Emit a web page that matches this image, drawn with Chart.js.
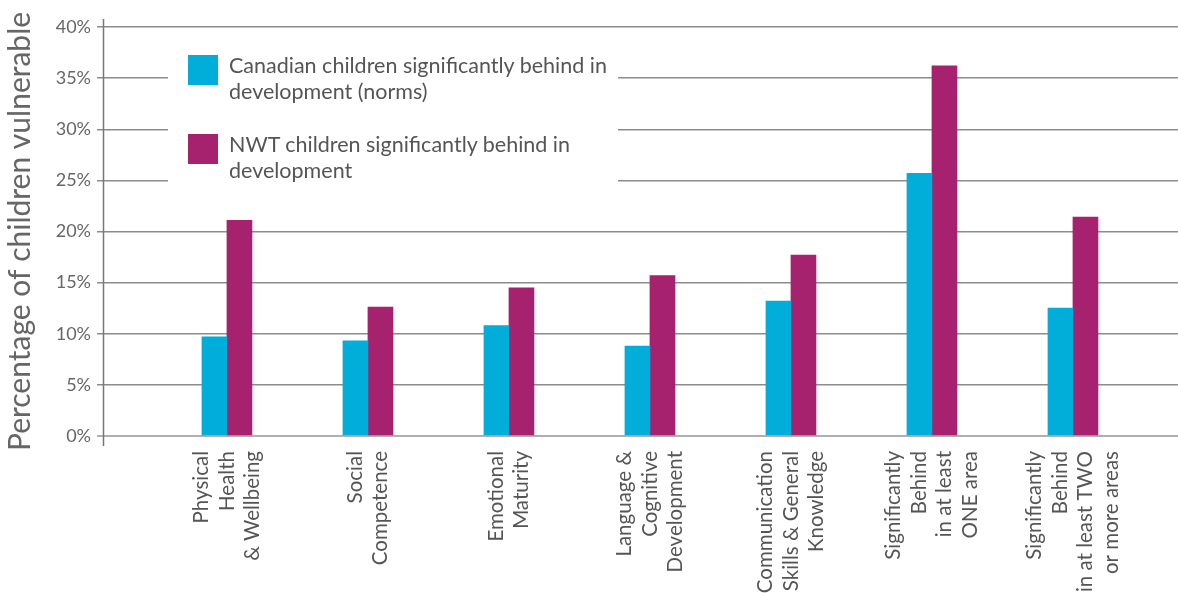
<!DOCTYPE html>
<html>
<head>
<meta charset="utf-8">
<script src="https://cdn.jsdelivr.net/npm/chart.js@4"></script>
<style>
  body { margin: 0; background: #fff; }
  #wrap { position: relative; width: 1178px; height: 593px; }
  #legend {
    position: absolute; left: 168px; top: 36px; width: 450px; height: 150px;
    background: #fff; font-family: Lato, sans-serif; font-size: 21.5px; color: #555;
  }
  .item { position: absolute; left: 20px; }
  .item .box { position: absolute; left: 0; top: 1px; width: 30px; height: 30px; }
  .item .txt { position: absolute; left: 41px; top: -2px; width: 420px; line-height: 26px; white-space: nowrap; }
</style>
</head>
<body>
<div id="wrap">
  <canvas id="chart" width="1178" height="593"></canvas>
  <div id="legend"></div>
</div>
<script>
// categories (multi-line labels)
const categories = [
  ["Physical", "Health", "& Wellbeing"],
  ["Social", "Competence"],
  ["Emotional", "Maturity"],
  ["Language &", "Cognitive", "Development"],
  ["Communication", "Skills & General", "Knowledge"],
  ["Significantly", "Behind", "in at least", "ONE area"],
  ["Significantly", "Behind", "in at least TWO", "or more areas"],
];

const canadaValues = [9.7, 9.3, 10.8, 8.8, 13.2, 25.7, 12.5];
const nwtValues = [21.1, 12.6, 14.5, 15.7, 17.7, 36.2, 21.4];

const seriesNames = [
  ["Canadian children significantly behind in", "development (norms)"],
  ["NWT children significantly behind in", "development"],
];
const seriesColors = ["#00AED9", "#A6226F"];

const xMin = 0.121;
const xMax = 7.745;
const labelSize = 20.5;
const labelLineHeight = 1.25;

// legend
const legendEl = document.getElementById("legend");
seriesNames.forEach((name, i) => {
  const item = document.createElement("div");
  item.className = "item";
  item.style.top = 18 + i * 79 + "px";
  item.innerHTML =
    '<div class="box" style="background:' + seriesColors[i] + '"></div>' +
    '<div class="txt">' + name.join("<br>") + "</div>";
  legendEl.appendChild(item);
});

// y axis line slightly longer than the plot area
const axisLine = {
  id: "axisLine",
  afterDatasetsDraw(chart) {
    const { ctx, chartArea } = chart;
    ctx.save();
    ctx.strokeStyle = "#777";
    ctx.lineWidth = 1.5;
    ctx.beginPath();
    ctx.moveTo(chartArea.left + 0.5, chartArea.top - 8);
    ctx.lineTo(chartArea.left + 0.5, chartArea.bottom + 10);
    ctx.stroke();
    ctx.restore();
  },
};

const toPoints = (vals) => vals.map((v, i) => ({ x: i + 1, y: v }));

new Chart(document.getElementById("chart"), {
  type: "bar",
  data: {
    datasets: [
      {
        label: seriesNames[0].join(" "),
        data: toPoints(canadaValues),
        backgroundColor: seriesColors[0],
        barThickness: 25,
      },
      {
        label: seriesNames[1].join(" "),
        data: toPoints(nwtValues),
        backgroundColor: seriesColors[1],
        barThickness: 25,
      },
    ],
  },
  plugins: [axisLine],
  options: {
    responsive: false,
    animation: false,
    layout: { padding: { top: 27, right: 0, left: 0, bottom: 0 } },
    plugins: { legend: { display: false }, tooltip: { enabled: false } },
    scales: {
      x: {
        type: "linear",
        offset: false,
        min: xMin,
        max: xMax,
        grid: { display: false, drawTicks: false, offset: false },
        border: { display: false },
        // centre each multi-line rotated label on its bar pair
        afterBuildTicks: (scale) => {
          const pxPerUnit = (1178 - 103) / (xMax - xMin);
          const lh = labelSize * labelLineHeight;
          scale.ticks = categories.map((lines, i) => ({
            value: i + 1 - ((lines.length - 1) * lh) / 2 / pxPerUnit,
          }));
        },
        afterFit: (scale) => {
          scale.height = 157;
          scale.paddingLeft = 0;
          scale.paddingRight = 0;
        },
        ticks: {
          autoSkip: false,
          maxRotation: 90,
          minRotation: 90,
          padding: 15,
          color: "#555",
          font: { family: "Lato", size: labelSize, lineHeight: labelLineHeight },
          callback: (v, i) => categories[i],
        },
      },
      y: {
        min: 0,
        max: 40,
        afterFit: (scale) => { scale.width = 103; },
        border: { display: false },
        grid: {
          color: (c) => (c.tick && c.tick.value === 0 ? "#b0b0b0" : "#8c8c8c"),
          lineWidth: (c) => (c.tick && c.tick.value === 0 ? 2 : 1.5),
          tickLength: 6,
        },
        ticks: {
          stepSize: 5,
          padding: 6,
          color: "#666",
          font: { family: "Lato", size: 18 },
          callback: (v) => v + "%",
        },
        title: {
          display: true,
          text: "Percentage of children vulnerable",
          color: "#666",
          font: { family: "Lato", size: 30 },
          padding: { top: 2, bottom: 0 },
        },
      },
    },
  },
});
</script>
</body>
</html>
